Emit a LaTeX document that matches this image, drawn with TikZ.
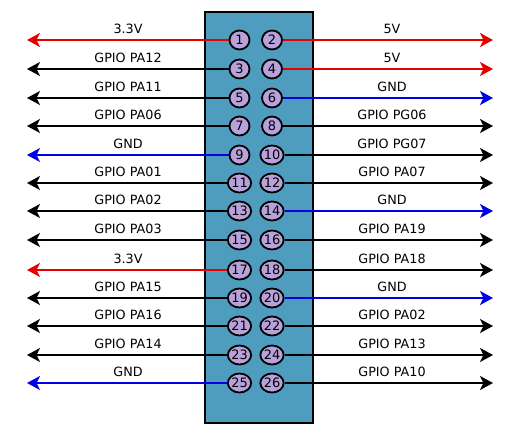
\documentclass[tikz,border=0pt]{standalone}
\usepackage{fontspec}
\setmainfont{DejaVu Sans}
\usetikzlibrary{arrows.meta,shapes.geometric}
\definecolor{boxblue}{HTML}{4F9DBE}
\definecolor{pinfill}{HTML}{B9A2DC}
\definecolor{wred}{HTML}{E60000}
\definecolor{wblue}{HTML}{0000E6}
\tikzset{
  pin/.style={ellipse, draw=black, line width=1.8bp, fill=pinfill, minimum width=20bp, minimum height=19bp, inner sep=0pt, font=\fontsize{13}{13}\selectfont},
  wire/.style={line width=1.8bp, -{Stealth[length=13bp,width=14bp,inset=3.5bp]}},
  lbl/.style={font=\fontsize{12.8}{14}\selectfont, inner sep=0pt},
  board/.style={draw=black, line width=1.8bp, fill=boxblue}
}
\begin{document}
\begin{tikzpicture}[x=1bp,y=-1bp]
\useasboundingbox (0,0) rectangle (530,439);
\node[board, minimum width=108bp, minimum height=411bp, inner sep=0pt, anchor=north west] (board) at (204,11) {};
% left column
\foreach \n/\y/\c/\t in {1/40/wred/3.3V, 3/69/black/GPIO PA12, 5/98/black/GPIO PA11, 7/126/black/GPIO PA06, 9/155/wblue/GND, 11/183/black/GPIO PA01, 13/211/black/GPIO PA02, 15/240/black/GPIO PA03, 17/270/wred/3.3V, 19/298/black/GPIO PA15, 21/326/black/GPIO PA16, 23/355/black/GPIO PA14, 25/383/wblue/GND}{
  \coordinate (e\n) at (27,\y);
  \node[pin] (p\n) at (239.5,\y) {\n};
  \draw[wire, draw=\c, fill=\c] (p\n.west) -- (e\n);
  \node[lbl] (t\n) at (128,\y-11.5) {\t};
}
% right column
\foreach \n/\y/\c/\t in {2/40/wred/5V, 4/69/wred/5V, 6/98/wblue/GND, 8/126/black/GPIO PG06, 10/155/black/GPIO PG07, 12/183/black/GPIO PA07, 14/211/wblue/GND, 16/240/black/GPIO PA19, 18/270/black/GPIO PA18, 20/298/wblue/GND, 22/326/black/GPIO PA02, 24/355/black/GPIO PA13, 26/383/black/GPIO PA10}{
  \coordinate (e\n) at (493,\y);
  \node[pin] (p\n) at (272,\y) {\n};
  \draw[wire, draw=\c, fill=\c] (p\n.east) -- (e\n);
  \node[lbl] (t\n) at (392,\y-11.5) {\t};
}
\end{tikzpicture}
\end{document}
